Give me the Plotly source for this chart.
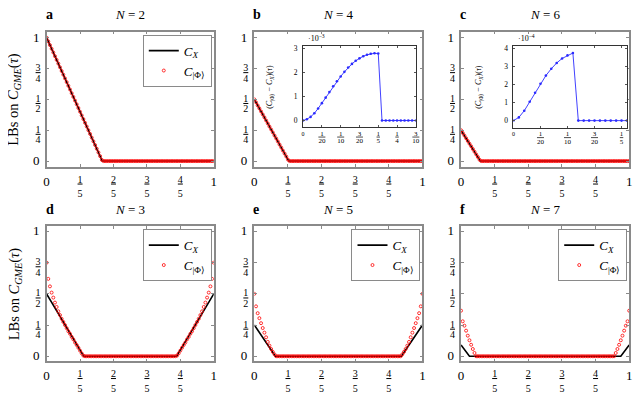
import plotly.graph_objects as go

W, H = 643, 393
OFF = 8  # the page body has an 8px margin, positions below are in window pixels
FONT = "Liberation Serif"

# sample points of tau (red markers), step
TAU = [0.00, 0.01, 0.02, 0.03, 0.04, 0.05, 0.06, 0.07, 0.08, 0.09,
       0.10, 0.11, 0.12, 0.13, 0.14, 0.15, 0.16, 0.17, 0.18, 0.19,
       0.20, 0.21, 0.22, 0.23, 0.24, 0.25, 0.26, 0.27, 0.28, 0.29,
       0.30, 0.31, 0.32, 0.33, 0.34, 0.35, 0.36, 0.37, 0.38, 0.39,
       0.40, 0.41, 0.42, 0.43, 0.44, 0.45, 0.46, 0.47, 0.48, 0.49,
       0.50, 0.51, 0.52, 0.53, 0.54, 0.55, 0.56, 0.57, 0.58, 0.59,
       0.60, 0.61, 0.62, 0.63, 0.64, 0.65, 0.66, 0.67, 0.68, 0.69,
       0.70, 0.71, 0.72, 0.73, 0.74, 0.75, 0.76, 0.77, 0.78, 0.79,
       0.80, 0.81, 0.82, 0.83, 0.84, 0.85, 0.86, 0.87, 0.88, 0.89,
       0.90, 0.91, 0.92, 0.93, 0.94, 0.95, 0.96, 0.97, 0.98, 0.99,
       1.00]

# C_|Phi> lower bounds
CPHI_N2 = [1.00, 0.97, 0.94, 0.91, 0.88, 0.85, 0.82, 0.79, 0.76, 0.73,
           0.70, 0.67, 0.64, 0.61, 0.58, 0.55, 0.52, 0.49, 0.46, 0.43,
           0.40, 0.37, 0.34, 0.31, 0.28, 0.25, 0.22, 0.19, 0.16, 0.13,
           0.10, 0.07, 0.04, 0.01, 0, 0, 0, 0, 0, 0,
           0, 0, 0, 0, 0, 0, 0, 0, 0, 0,
           0, 0, 0, 0, 0, 0, 0, 0, 0, 0,
           0, 0, 0, 0, 0, 0, 0, 0, 0, 0,
           0, 0, 0, 0, 0, 0, 0, 0, 0, 0,
           0, 0, 0, 0, 0, 0, 0, 0, 0, 0,
           0, 0, 0, 0, 0, 0, 0, 0, 0, 0,
           0]
CPHI_N4 = [0.500, 0.476, 0.451, 0.427, 0.402, 0.378, 0.354, 0.329, 0.305, 0.280,
           0.256, 0.232, 0.207, 0.183, 0.159, 0.134, 0.110, 0.085, 0.061, 0.037,
           0.012, 0, 0, 0, 0, 0, 0, 0, 0, 0,
           0, 0, 0, 0, 0, 0, 0, 0, 0, 0,
           0, 0, 0, 0, 0, 0, 0, 0, 0, 0,
           0, 0, 0, 0, 0, 0, 0, 0, 0, 0,
           0, 0, 0, 0, 0, 0, 0, 0, 0, 0,
           0, 0, 0, 0, 0, 0, 0, 0, 0, 0,
           0, 0, 0, 0, 0, 0, 0, 0, 0, 0,
           0, 0, 0, 0, 0, 0, 0, 0, 0, 0,
           0]
CPHI_N6 = [0.250, 0.228, 0.207, 0.185, 0.163, 0.141, 0.120, 0.098, 0.076, 0.054,
           0.033, 0.011, 0, 0, 0, 0, 0, 0, 0, 0,
           0, 0, 0, 0, 0, 0, 0, 0, 0, 0,
           0, 0, 0, 0, 0, 0, 0, 0, 0, 0,
           0, 0, 0, 0, 0, 0, 0, 0, 0, 0,
           0, 0, 0, 0, 0, 0, 0, 0, 0, 0,
           0, 0, 0, 0, 0, 0, 0, 0, 0, 0,
           0, 0, 0, 0, 0, 0, 0, 0, 0, 0,
           0, 0, 0, 0, 0, 0, 0, 0, 0, 0,
           0, 0, 0, 0, 0, 0, 0, 0, 0, 0,
           0]
CPHI_N3 = [0.75, 0.62, 0.56, 0.51, 0.47, 0.43, 0.395, 0.36, 0.33, 0.30,
           0.275, 0.25, 0.225, 0.20, 0.18, 0.155, 0.135, 0.11, 0.09, 0.068,
           0.045, 0.023, 0.005, 0, 0, 0, 0, 0, 0, 0,
           0, 0, 0, 0, 0, 0, 0, 0, 0, 0,
           0, 0, 0, 0, 0, 0, 0, 0, 0, 0,
           0, 0, 0, 0, 0, 0, 0, 0, 0, 0,
           0, 0, 0, 0, 0, 0, 0, 0, 0, 0,
           0, 0, 0, 0, 0, 0, 0, 0, 0.005, 0.023,
           0.045, 0.068, 0.09, 0.11, 0.135, 0.155, 0.18, 0.20, 0.225, 0.25,
           0.275, 0.30, 0.33, 0.36, 0.395, 0.43, 0.47, 0.51, 0.56, 0.62,
           0.75]
CPHI_N5 = [0.50, 0.40, 0.345, 0.305, 0.265, 0.226, 0.189, 0.152, 0.115, 0.085,
           0.058, 0.035, 0.015, 0, 0, 0, 0, 0, 0, 0,
           0, 0, 0, 0, 0, 0, 0, 0, 0, 0,
           0, 0, 0, 0, 0, 0, 0, 0, 0, 0,
           0, 0, 0, 0, 0, 0, 0, 0, 0, 0,
           0, 0, 0, 0, 0, 0, 0, 0, 0, 0,
           0, 0, 0, 0, 0, 0, 0, 0, 0, 0,
           0, 0, 0, 0, 0, 0, 0, 0, 0, 0,
           0, 0, 0, 0, 0, 0, 0, 0, 0.015, 0.035,
           0.058, 0.085, 0.115, 0.152, 0.189, 0.226, 0.265, 0.305, 0.345, 0.40,
           0.50]
CPHI_N7 = [0.365, 0.28, 0.245, 0.205, 0.165, 0.128, 0.092, 0.058, 0.026, 0,
           0, 0, 0, 0, 0, 0, 0, 0, 0, 0,
           0, 0, 0, 0, 0, 0, 0, 0, 0, 0,
           0, 0, 0, 0, 0, 0, 0, 0, 0, 0,
           0, 0, 0, 0, 0, 0, 0, 0, 0, 0,
           0, 0, 0, 0, 0, 0, 0, 0, 0, 0,
           0, 0, 0, 0, 0, 0, 0, 0, 0, 0,
           0, 0, 0, 0, 0, 0, 0, 0, 0, 0,
           0, 0, 0, 0, 0, 0, 0, 0, 0, 0,
           0, 0, 0.026, 0.058, 0.092, 0.128, 0.165, 0.205, 0.245, 0.28,
           0.365]

# C_X lower bounds (piecewise linear)
CX_TAU_N2, CX_N2 = [0, 0.333, 1], [1, 0, 0]
CX_TAU_N4, CX_N4 = [0, 0.205, 1], [0.5, 0, 0]
CX_TAU_N6, CX_N6 = [0, 0.115, 1], [0.25, 0, 0]
CX_TAU_N3, CX_N3 = [0, 0.222, 0.778, 1], [0.5, 0, 0, 0.5]
CX_TAU_N5, CX_N5 = [0, 0.125, 0.875, 1], [0.25, 0, 0, 0.25]
CX_TAU_N7, CX_N7 = [0, 0.05, 0.95, 1], [0.09, 0, 0, 0.09]

# insets: C_|Phi> - C_X
DIFF_N4 = [0, 0.05, 0.15, 0.30, 0.50, 0.72, 0.95, 1.18, 1.42, 1.63,
           1.83, 2.02, 2.20, 2.35, 2.48, 2.58, 2.67, 2.73, 2.77, 2.79,
           2.78, 0, 0, 0, 0, 0, 0, 0, 0, 0, 0]          # x 1e-3
DIFF_N6 = [0, 0.18, 0.55, 1.05, 1.55, 2.05, 2.50, 2.88, 3.20, 3.45,
           3.62, 3.75, 0, 0, 0, 0, 0, 0, 0, 0, 0, 0]    # x 1e-4

X_TICKS = [0, 0.2, 0.4, 0.6, 0.8, 1]
Y_TICKS = [0, 0.25, 0.5, 0.75, 1]
Y_FRAC_TICKS = [0.25, 0.5, 0.75]
INT_TICKS = [0, 1]
INSET_TICKS_N4 = [0, 0.05, 0.1, 0.15, 0.2, 0.25, 0.3]
INSET_TICKS_N6 = [0, 0.05, 0.1, 0.15, 0.2]


def big(t):
    return f"<span style='font-size:13px'>{t}</span>"


def frac(n, d, size=10):
    pad = "\u00a0" if len(str(d)) > 1 else ""
    return (f"<span style='font-size:{size}px'><u>{pad}{n}{pad}</u></span><br>"
            f"<span style='font-size:{size}px'>{d}</span>")


X_FRAC_LABELS = [frac(1, 5), frac(2, 5), frac(3, 5), frac(4, 5)]
Y_FRAC_LABELS = [frac(1, 4), frac(1, 2), frac(3, 4)]
INT_LABELS = [big(0), big(1)]
INSET_LABELS_N4 = ["0", frac(1, 20, 7), frac(1, 10, 7), frac(3, 20, 7), frac(1, 5, 7),
                   frac(1, 4, 7), frac(3, 10, 7)]
INSET_LABELS_N6 = ["0", frac(1, 20, 7), frac(1, 10, 7), frac(3, 20, 7), frac(1, 5, 7)]

PANELS = [
    dict(letter="a", n=2, cx_x=CX_TAU_N2, cx=CX_N2, cphi=CPHI_N2, legend="legend"),
    dict(letter="b", n=4, cx_x=CX_TAU_N4, cx=CX_N4, cphi=CPHI_N4, legend=None),
    dict(letter="c", n=6, cx_x=CX_TAU_N6, cx=CX_N6, cphi=CPHI_N6, legend=None),
    dict(letter="d", n=3, cx_x=CX_TAU_N3, cx=CX_N3, cphi=CPHI_N3, legend="legend2"),
    dict(letter="e", n=5, cx_x=CX_TAU_N5, cx=CX_N5, cphi=CPHI_N5, legend="legend3"),
    dict(letter="f", n=7, cx_x=CX_TAU_N7, cx=CX_N7, cphi=CPHI_N7, legend="legend4"),
]

COLS = [(44, 213), (254, 424), (463, 633)]
ROWS = [(29, 166), (226, 363)]
Y_RANGES = [[-0.048, 1.048], [-0.042, 1.042]]


def fx(p):
    return (p - OFF) / W


def fy(p):
    return 1 - (p - OFF) / H


FRAME = dict(showline=True, linecolor="#8a8a8a", linewidth=1.5, mirror="allticks",
             ticks="inside", ticklen=3, tickcolor="#8a8a8a", tickwidth=1,
             showgrid=False, zeroline=False,
             tickfont=dict(family=FONT, size=11.5, color="black"))
# label-only axes laid over the frame axes (integer x labels sit lower,
# fraction y labels are centred on their tick)
LABELS_ONLY = dict(showline=False, ticks="", showgrid=False, zeroline=False,
                   tickfont=dict(family=FONT, size=8, color="black"))
INSET = dict(showline=True, linecolor="#333333", linewidth=1, mirror="allticks",
             ticks="inside", ticklen=2, tickcolor="#555555", tickwidth=0.8,
             showgrid=False, zeroline=False,
             tickfont=dict(family=FONT, size=6, color="black"))

fig = go.Figure()
ann = []
layout = {}

for i, p in enumerate(PANELS):
    k = i + 1
    sfx = "" if k == 1 else str(k)
    ov = str(k + 8)
    x0, x1 = COLS[i % 3]
    y0, y1 = ROWS[i // 3]
    yr = Y_RANGES[i // 3]
    show = p["legend"] is not None
    leg = p["legend"] or "legend"

    fig.add_trace(go.Scatter(
        x=p["cx_x"], y=p["cx"], mode="lines",
        line=dict(color="black", width=1.6),
        name="<i>C</i><sub><i>X</i></sub>",
        xaxis="x" + sfx, yaxis="y" + sfx, showlegend=show, legend=leg,
        hoverinfo="skip",
    ))
    fig.add_trace(go.Scatter(
        x=TAU, y=p["cphi"], mode="markers",
        marker=dict(symbol="circle-open", size=3, color="red", line=dict(width=0.8)),
        name="<i>C</i><sub>|Φ⟩</sub>",
        xaxis="x" + sfx, yaxis="y" + sfx, showlegend=show, legend=leg,
        hoverinfo="skip",
    ))
    # empty trace that carries the label-only axes
    fig.add_trace(go.Scatter(x=[], y=[], xaxis="x" + ov, yaxis="y" + ov,
                             showlegend=False, hoverinfo="skip"))

    layout["xaxis" + sfx] = dict(FRAME, domain=[fx(x0), fx(x1)], anchor="y" + sfx,
                                 range=[0, 1], tickvals=X_TICKS,
                                 ticktext=[" "] + X_FRAC_LABELS + [" "])
    layout["yaxis" + sfx] = dict(FRAME, domain=[fy(y1), fy(y0)], anchor="x" + sfx,
                                 range=yr, tickvals=Y_TICKS,
                                 ticktext=[INT_LABELS[0], " ", " ", " ", INT_LABELS[1]],
                                 ticklabelstandoff=3)
    layout["xaxis" + ov] = dict(LABELS_ONLY, overlaying="x" + sfx, anchor="y" + ov,
                                range=[0, 1], tickvals=INT_TICKS, ticktext=INT_LABELS,
                                ticklabelstandoff=10)
    layout["yaxis" + ov] = dict(LABELS_ONLY, overlaying="y" + sfx, anchor="x" + ov,
                                range=yr, tickvals=Y_FRAC_TICKS, ticktext=Y_FRAC_LABELS,
                                ticklabelshift=5, ticklabelstandoff=5)

    if show:
        layout[leg] = dict(x=fx(x1 - 2), y=fy(y0 + 3), xanchor="right", yanchor="top",
                           xref="paper", yref="paper",
                           bgcolor="white", bordercolor="#8a8a8a", borderwidth=1,
                           font=dict(family=FONT, size=13), tracegroupgap=0,
                           itemwidth=30)

    ann.append(dict(text=f"<i>N</i> = {p['n']}", x=fx((x0 + x1) / 2), y=fy(y0 - 17),
                    xref="paper", yref="paper", showarrow=False,
                    xanchor="center", yanchor="middle",
                    font=dict(family=FONT, size=13)))
    ann.append(dict(text=f"<b>{p['letter']}</b>", x=fx(x0 - 3), y=fy(y0 - 17),
                    xref="paper", yref="paper", showarrow=False,
                    xanchor="left", yanchor="middle",
                    font=dict(family=FONT, size=14)))
    if i % 3 == 0:
        ann.append(dict(text="LBs on <i>C</i><sub><i>GME</i></sub>(<i>τ</i>)",
                        x=fx(11.5), y=fy((y0 + y1) / 2), xref="paper", yref="paper",
                        xanchor="center", yanchor="middle",
                        showarrow=False, textangle=-90,
                        font=dict(family=FONT, size=14.5)))

# insets in panels b and c
INSETS = [
    dict(k=15, tau=TAU[:31], diff=DIFF_N4, box=(303.3, 417.3, 43.3, 126), xr=[0, 0.3],
         yr=[-0.29, 3.1], xt=INSET_TICKS_N4, xl=INSET_LABELS_N4, yt=[0, 1, 2, 3], exp="−3",
         title_x=270),
    dict(k=16, tau=TAU[:22], diff=DIFF_N6, box=(516, 630.7, 43.3, 126.7), xr=[0, 0.21],
         yr=[-0.42, 4.15], xt=INSET_TICKS_N6, xl=INSET_LABELS_N6, yt=[0, 1, 2, 3, 4], exp="−4",
         title_x=481),
]

for s in INSETS:
    k = str(s["k"])
    bx0, bx1, by0, by1 = s["box"]
    fig.add_trace(go.Scatter(
        x=s["tau"], y=s["diff"], mode="lines+markers",
        line=dict(color="#2b2bff", width=0.9),
        marker=dict(color="#2b2bff", size=2.6),
        xaxis="x" + k, yaxis="y" + k, showlegend=False, hoverinfo="skip",
    ))
    layout["xaxis" + k] = dict(INSET, domain=[fx(bx0), fx(bx1)], anchor="y" + k,
                               range=s["xr"], tickvals=s["xt"], ticktext=s["xl"])
    layout["yaxis" + k] = dict(INSET, domain=[fy(by1), fy(by0)], anchor="x" + k,
                               range=s["yr"], tickvals=s["yt"], ticklabelstandoff=3,
                               tickfont=dict(family=FONT, size=7.5, color="black"))
    ann.append(dict(text=f"·10<sup>{s['exp']}</sup>", x=fx(bx0 + 3), y=fy(by0 - 1),
                    xref="paper", yref="paper", showarrow=False, xanchor="left",
                    yanchor="bottom", font=dict(family=FONT, size=8)))
    ann.append(dict(text="(<i>C</i><sub>|Φ⟩</sub> − <i>C</i><sub><i>X</i></sub>)(<i>τ</i>)",
                    x=fx(s["title_x"]), y=fy((by0 + by1) / 2), xref="paper", yref="paper",
                    xanchor="center", yanchor="middle",
                    showarrow=False, textangle=-90, font=dict(family=FONT, size=8)))

fig.update_layout(
    width=W, height=H,
    margin=dict(l=0, r=0, t=0, b=0),
    plot_bgcolor="white", paper_bgcolor="white",
    font=dict(family=FONT, color="black"),
    annotations=ann,
    **layout,
)

fig.write_html("out.html")
